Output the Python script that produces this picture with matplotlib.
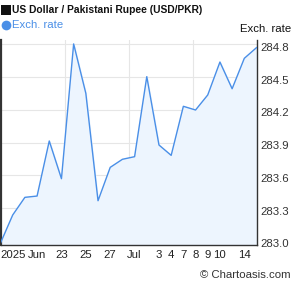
import matplotlib
matplotlib.use("Agg")
import matplotlib.pyplot as plt
import matplotlib.transforms as mtransforms
from matplotlib.patches import Rectangle
from matplotlib.lines import Line2D

plt.rcParams['font.family'] = ['Liberation Sans', 'DejaVu Sans']

# Data (USD/PKR, daily business days)
values = [282.979, 283.236, 283.398, 283.410, 283.915, 283.569, 284.805, 284.352,
          283.367, 283.673, 283.747, 283.771, 284.505, 283.878, 283.783, 284.233,
          284.199, 284.337, 284.639, 284.394, 284.673, 284.771]
tick_idx = [1, 3, 5, 7, 9, 11, 13, 14, 15, 16, 17, 18, 20]
tick_labels = ["2025", "Jun", "23", "25", "27", "Jul", "3", "4", "7", "8", "9", "10", "14"]
y_ticks = [283.0, 283.3, 283.6, 283.9, 284.2, 284.5, 284.8]

W, H = 295, 288
fig = plt.figure(figsize=(W / 100, H / 100), dpi=100)
fig.patch.set_facecolor('white')

# axes in pixel coordinates
x0, x1 = 0.5, 256.5
ytop, ybot = 40, 245
ax = fig.add_axes([x0 / W, 1 - ybot / H, (x1 - x0) / W, (ybot - ytop) / H])

xs = list(range(len(values)))
ymin, ymax = 282.961, 284.841
ax.set_xlim(0, len(values) - 1)
ax.set_ylim(ymin, ymax)

line_c = '#4a8fe7'
ax.fill_between(xs, values, ymin, color='#edf5fe', zorder=1)
ax.plot(xs, values, color=line_c, lw=1.0, zorder=3)

# grid
n = len(values) - 1
for k in (1, 2, 3):
    ax.axvline(n * k / 4, color='#e6e6e6', lw=0.8, zorder=0.5)
for yv in y_ticks[1:]:
    ax.axhline(yv, color='#e6e6e6', lw=0.8, zorder=0.5)

ax.spines['top'].set_visible(False)
ax.spines['left'].set_color('#333333')
ax.spines['left'].set_linewidth(1.6)
ax.spines['right'].set_color('#333333')
ax.spines['right'].set_linewidth(1.0)
ax.spines['bottom'].set_color('#333333')
ax.spines['bottom'].set_linewidth(1.0)

ax.yaxis.tick_right()
ax.set_yticks(y_ticks)
ax.set_yticklabels([f"{v:.1f}" for v in y_ticks])
ax.tick_params(axis='y', length=0, pad=3, labelsize=8.2, labelcolor='#333333')
offset = mtransforms.ScaledTranslation(0, -2.5 / 100, fig.dpi_scale_trans)
for lab in ax.get_yticklabels():
    lab.set_transform(lab.get_transform() + offset)

ax.set_xticks(tick_idx)
ax.set_xticklabels(tick_labels)
ax.tick_params(axis='x', length=0, pad=3.5, labelsize=8.2, labelcolor='#222222')

# Title & legends
fig.add_artist(Rectangle((1 / W, 1 - 15 / H), 9.5 / W, 9.5 / H, transform=fig.transFigure,
                         facecolor='#111111', edgecolor='none'))
fig.text(12.5 / W, 1 - 10 / H, "US Dollar / Pakistani Rupee (USD/PKR)", fontsize=7.4,
         fontweight='bold', color='#111111', va='center', ha='left')
fig.add_artist(Line2D([6 / W], [1 - 25 / H], transform=fig.transFigure, marker='o',
                      markersize=7.0, color=line_c, markeredgewidth=0, linestyle='none'))
fig.text(12 / W, 1 - 25 / H, "Exch. rate", fontsize=8.2, color=line_c, va='center', ha='left')
fig.text(291 / W, 1 - 29 / H, "Exch. rate", fontsize=8.2, color='#111111', va='center', ha='right')
fig.text(291 / W, 1 - 275 / H, "\u00A9 Chartoasis.com", fontsize=8.2, color='#333333',
         va='center', ha='right')

fig.savefig("out.png", dpi=100, facecolor='white')
